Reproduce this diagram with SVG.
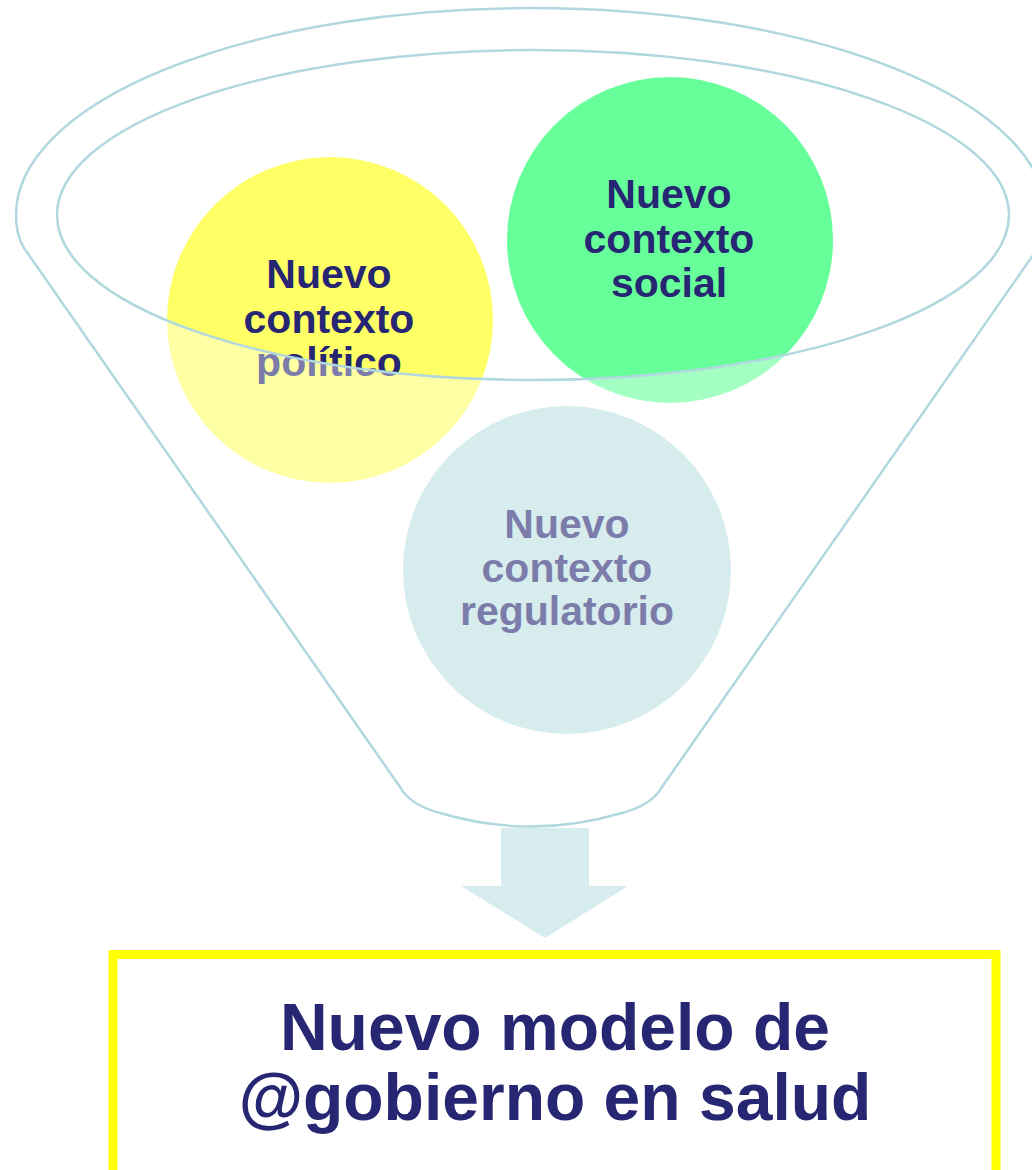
<svg xmlns="http://www.w3.org/2000/svg" width="1032" height="1170" viewBox="0 0 1032 1170">
<style>
.ct{font-family:"Liberation Sans",Arial,sans-serif;font-weight:bold;font-size:41px;fill:#262673;text-anchor:middle}
.bt{font-family:"Liberation Sans",Arial,sans-serif;font-weight:bold;font-size:66px;fill:#262673;text-anchor:middle}
.rim{fill:none;stroke:#B0D8DE;stroke-width:2.5}
</style>
<rect width="1032" height="1170" fill="#FFFFFF"/>
<g id="connectors">
<path d="M501,828 H589 V886 H628 L545,938 L461,886 H501 Z" fill="#D6ECEE"/>
</g>
<g id="node-politico">
<circle cx="330" cy="320" r="163" fill="#FFFF66"/>
<text class="ct" x="329" y="288">Nuevo</text>
<text class="ct" x="329" y="333">contexto</text>
<text class="ct" x="329" y="376">político</text>
</g>
<g id="node-social">
<circle cx="670" cy="240" r="163" fill="#66FF99"/>
<text class="ct" x="669" y="208">Nuevo</text>
<text class="ct" x="669" y="253">contexto</text>
<text class="ct" x="669" y="297">social</text>
</g>
<g id="node-regulatorio">
<circle cx="567" cy="570" r="164" fill="#BBDFE2"/>
<text class="ct" x="567" y="538">Nuevo</text>
<text class="ct" x="567" y="582">contexto</text>
<text class="ct" x="567" y="625">regulatorio</text>
</g>
<g id="funnel">
<path fill="#FFFFFF" fill-opacity="0.4" fill-rule="evenodd" d="M24,248 Q16,235 16,215 A515,207 0 0 1 1046,215 Q1046,235 1038,248 L662,787 Q652,805 622,813 Q531,840 440,813 Q410,805 400,787 Z M57,215 A476,165 0 1 0 1009,215 A476,165 0 1 0 57,215 Z"/>
<path class="rim" d="M24,248 Q16,235 16,215 A515,207 0 0 1 1046,215 Q1046,235 1038,248 L662,787 Q652,805 622,813 Q531,840 440,813 Q410,805 400,787 Z"/>
<ellipse class="rim" cx="533" cy="215" rx="476" ry="165"/>
</g>
<g id="node-modelo">
<rect x="113" y="954.5" width="883" height="240" fill="none" stroke="#FFFF00" stroke-width="9"/>
<text class="bt" x="555" y="1050">Nuevo modelo de</text>
<text class="bt" x="555" y="1120">@gobierno en salud</text>
</g>
</svg>
